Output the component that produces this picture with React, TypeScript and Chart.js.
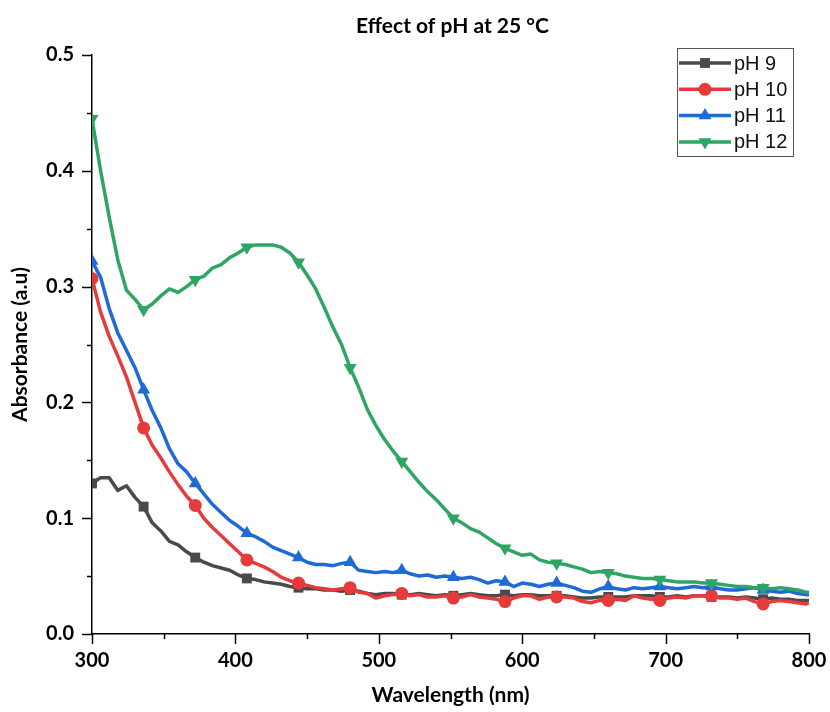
import React, { useEffect, useRef } from 'react';
import { Chart, registerables } from 'chart.js';

Chart.register(...registerables);

const wavelengths = [
  300, 306, 312, 318, 324, 330, 336, 342, 348, 354, 360, 366, 372, 378, 384, 390, 396, 402, 408, 414,
  420, 426, 432, 438, 444, 450, 456, 462, 468, 474, 480, 486, 492, 498, 504, 510, 516, 522, 528, 534,
  540, 546, 552, 558, 564, 570, 576, 582, 588, 594, 600, 606, 612, 618, 624, 630, 636, 642, 648, 654,
  660, 666, 672, 678, 684, 690, 696, 702, 708, 714, 720, 726, 732, 738, 744, 750, 756, 762, 768, 774,
  780, 786, 792, 798, 800,
];

const ph9 = [
  0.130, 0.135, 0.135, 0.124, 0.128, 0.118, 0.110, 0.096, 0.089, 0.080, 0.077, 0.071, 0.066, 0.062, 0.059, 0.057, 0.055, 0.051, 0.048, 0.047,
  0.045, 0.044, 0.043, 0.041, 0.040, 0.039, 0.039, 0.038, 0.038, 0.037, 0.038, 0.037, 0.035, 0.034, 0.035, 0.035, 0.034, 0.034, 0.035, 0.034,
  0.033, 0.034, 0.033, 0.034, 0.035, 0.034, 0.033, 0.033, 0.034, 0.033, 0.034, 0.034, 0.033, 0.033, 0.033, 0.033, 0.032, 0.031, 0.031, 0.032,
  0.032, 0.032, 0.032, 0.033, 0.033, 0.033, 0.032, 0.032, 0.033, 0.032, 0.033, 0.033, 0.032, 0.032, 0.032, 0.031, 0.032, 0.031, 0.030, 0.031,
  0.030, 0.030, 0.029, 0.029, 0.029,
];

const ph10 = [
  0.307, 0.278, 0.257, 0.240, 0.222, 0.200, 0.178, 0.163, 0.152, 0.140, 0.129, 0.119, 0.111, 0.100, 0.092, 0.085, 0.078, 0.071, 0.064, 0.061,
  0.058, 0.054, 0.049, 0.046, 0.044, 0.042, 0.040, 0.039, 0.038, 0.039, 0.040, 0.036, 0.035, 0.031, 0.033, 0.034, 0.035, 0.033, 0.034, 0.032,
  0.032, 0.033, 0.031, 0.032, 0.034, 0.032, 0.031, 0.030, 0.028, 0.031, 0.033, 0.033, 0.030, 0.032, 0.032, 0.032, 0.031, 0.028, 0.027, 0.029,
  0.029, 0.030, 0.029, 0.033, 0.031, 0.030, 0.029, 0.031, 0.032, 0.031, 0.033, 0.033, 0.033, 0.031, 0.031, 0.030, 0.031, 0.028, 0.026, 0.028,
  0.029, 0.028, 0.027, 0.026, 0.027,
];

const ph11 = [
  0.322, 0.308, 0.281, 0.260, 0.245, 0.230, 0.211, 0.193, 0.178, 0.160, 0.147, 0.140, 0.130, 0.121, 0.112, 0.105, 0.098, 0.093, 0.087, 0.084,
  0.080, 0.075, 0.072, 0.069, 0.066, 0.062, 0.060, 0.060, 0.059, 0.061, 0.062, 0.055, 0.054, 0.053, 0.054, 0.053, 0.055, 0.052, 0.050, 0.051,
  0.049, 0.050, 0.049, 0.048, 0.049, 0.047, 0.044, 0.046, 0.045, 0.041, 0.044, 0.043, 0.041, 0.043, 0.044, 0.042, 0.040, 0.037, 0.036, 0.039,
  0.041, 0.039, 0.038, 0.040, 0.039, 0.040, 0.041, 0.040, 0.039, 0.040, 0.041, 0.040, 0.041, 0.039, 0.038, 0.038, 0.039, 0.040, 0.038, 0.037,
  0.036, 0.037, 0.035, 0.034, 0.034,
];

const ph12 = [
  0.445, 0.400, 0.360, 0.323, 0.297, 0.289, 0.280, 0.285, 0.292, 0.298, 0.295, 0.300, 0.306, 0.309, 0.316, 0.319, 0.325, 0.329, 0.334, 0.336,
  0.336, 0.336, 0.334, 0.329, 0.321, 0.310, 0.298, 0.282, 0.265, 0.250, 0.230, 0.213, 0.194, 0.180, 0.168, 0.158, 0.149, 0.140, 0.131, 0.123,
  0.116, 0.108, 0.100, 0.096, 0.091, 0.088, 0.083, 0.078, 0.074, 0.071, 0.068, 0.069, 0.064, 0.062, 0.061, 0.060, 0.058, 0.056, 0.053, 0.054,
  0.053, 0.052, 0.050, 0.049, 0.048, 0.048, 0.047, 0.046, 0.045, 0.045, 0.045, 0.044, 0.044, 0.043, 0.042, 0.041, 0.041, 0.040, 0.040, 0.039,
  0.040, 0.039, 0.038, 0.036, 0.036,
];

const seriesLabels = ['pH 9', 'pH 10', 'pH 11', 'pH 12'];
const seriesColors = ['#4a4a4a', '#e63b3b', '#1f6ad4', '#2fa564'];
const seriesShapes = ['rect', 'circle', 'triangle', 'triangle'];
const seriesRotation = [0, 0, 0, 180];
const seriesRadius = [7, 6.5, 7.5, 7.5];
const seriesValues = [ph9, ph10, ph11, ph12];

const chartTitle = 'Effect of pH at 25 °C';
const xTitle = 'Wavelength (nm)';
const yTitle = 'Absorbance (a.u)';
const xMin = 300, xMax = 800, xStep = 100;
const yMin = 0, yMax = 0.5, yStep = 0.1;

const FONT = 'Lato, "Open Sans", sans-serif';

function drawMarker(ctx: CanvasRenderingContext2D, shape: string, x: number, y: number, r: number, rot: number) {
  ctx.beginPath();
  if (shape === 'rect') {
    const s = r * Math.SQRT1_2;
    ctx.rect(x - s, y - s, 2 * s, 2 * s);
  } else if (shape === 'circle') {
    ctx.arc(x, y, r, 0, Math.PI * 2);
  } else {
    const a0 = (rot * Math.PI) / 180;
    for (let k = 0; k < 3; k++) {
      const a = a0 - Math.PI / 2 + (k * 2 * Math.PI) / 3;
      const px = x + Math.cos(a) * r;
      const py = y + Math.sin(a) * r;
      if (k === 0) ctx.moveTo(px, py); else ctx.lineTo(px, py);
    }
    ctx.closePath();
  }
  ctx.fill();
}

const decorPlugin = {
  id: 'decor',
  afterDraw(chart: any) {
    const { ctx, chartArea, scales } = chart;
    const xs = scales.x, ys = scales.y;
    ctx.save();
    ctx.strokeStyle = '#000';
    ctx.lineWidth = 1.5;
    for (let v = xMin; v <= xMax + 1e-9; v += xStep / 2) {
      const px = Math.round(xs.getPixelForValue(v)) + 0.5;
      const major = Math.abs(((v - xMin) / xStep) - Math.round((v - xMin) / xStep)) < 1e-6;
      ctx.beginPath();
      ctx.moveTo(px, chartArea.bottom);
      ctx.lineTo(px, chartArea.bottom + (major ? 10 : 5));
      ctx.stroke();
    }
    for (let v = yMin; v <= yMax + 1e-9; v += yStep / 2) {
      const py = Math.round(ys.getPixelForValue(v)) + 0.5;
      const major = Math.abs(((v - yMin) / yStep) - Math.round((v - yMin) / yStep)) < 1e-6;
      ctx.beginPath();
      ctx.moveTo(chartArea.left, py);
      ctx.lineTo(chartArea.left - (major ? 10 : 5), py);
      ctx.stroke();
    }
    // title
    ctx.fillStyle = '#000';
    ctx.font = `bold 21px ${FONT}`;
    ctx.textAlign = 'center';
    ctx.textBaseline = 'middle';
    ctx.fillText(chartTitle, (chartArea.left + chartArea.right) / 2 + 2, 26);
    // legend
    const bx = chartArea.right - 132, by = chartArea.top - 7, bw = 116, bh = 108;
    ctx.fillStyle = '#fff';
    ctx.fillRect(bx, by, bw, bh);
    ctx.strokeStyle = '#555';
    ctx.lineWidth = 1;
    ctx.strokeRect(bx + 0.5, by + 0.5, bw, bh);
    chart.data.datasets.forEach((ds: any, i: number) => {
      const cy = by + 15 + i * 26.3;
      ctx.strokeStyle = seriesColors[i];
      ctx.lineWidth = 3.5;
      ctx.beginPath();
      ctx.moveTo(bx + 2, cy);
      ctx.lineTo(bx + 54, cy);
      ctx.stroke();
      ctx.fillStyle = seriesColors[i];
      drawMarker(ctx, seriesShapes[i], bx + 28, cy, seriesRadius[i], seriesRotation[i]);
      ctx.fillStyle = '#111';
      ctx.font = `20px "Liberation Sans", Arial, sans-serif`;
      ctx.textAlign = 'left';
      ctx.textBaseline = 'middle';
      ctx.fillText(ds.label, bx + 57, cy + 1);
    });
    ctx.restore();
  },
};

export default function App() {
  const ref = useRef<HTMLCanvasElement | null>(null);
  useEffect(() => {
    document.body.style.margin = '0';
    const canvas = ref.current!;
    const datasets = seriesLabels.map((label, i) => ({
      label,
      data: wavelengths.map((w, j) => ({ x: w, y: seriesValues[i][j] })),
      borderColor: seriesColors[i],
      backgroundColor: seriesColors[i],
      borderWidth: 3.5,
      borderJoinStyle: 'round' as const,
      tension: 0,
      pointStyle: seriesShapes[i] as any,
      rotation: seriesRotation[i],
      pointBorderWidth: 0,
      pointRadius: (c: any) => (c.dataIndex % 6 === 0 && wavelengths[c.dataIndex] < 790 ? seriesRadius[i] : 0),
      pointHoverRadius: 0,
      order: seriesLabels.length - i,
    }));
    const chart = new Chart(canvas, {
      type: 'line',
      data: { datasets },
      options: {
        animation: false,
        responsive: false,
        maintainAspectRatio: false,
        layout: { padding: { top: 55, right: 21, left: 0, bottom: 0 } },
        plugins: { legend: { display: false }, title: { display: false }, tooltip: { enabled: false } },
        scales: {
          x: {
            type: 'linear',
            min: xMin,
            max: xMax,
            afterFit: (s: any) => { s.height = 78; s.paddingLeft = 0; s.paddingRight = 0; },
            ticks: { stepSize: xStep, color: '#000', font: { family: FONT, size: 20, weight: 'bold' }, padding: 15, maxRotation: 0 },
            grid: { display: false, drawTicks: false },
            border: { display: true, color: '#000', width: 1.5 },
            title: { display: true, text: xTitle, color: '#000', font: { family: FONT, size: 21, weight: 'bold' }, padding: { top: 0, bottom: 4 } },
          },
          y: {
            type: 'linear',
            min: yMin,
            max: yMax,
            afterFit: (s: any) => { s.width = 92; s.paddingTop = 0; s.paddingBottom = 0; },
            ticks: { stepSize: yStep, color: '#000', font: { family: FONT, size: 20, weight: 'bold' }, padding: 18, callback: (v: any) => Number(v).toFixed(1) },
            grid: { display: false, drawTicks: false },
            border: { display: true, color: '#000', width: 1.5 },
            title: { display: true, text: yTitle, color: '#000', font: { family: FONT, size: 21, weight: 'bold' }, padding: { top: 8, bottom: 0 } },
          },
        },
      },
      plugins: [decorPlugin],
    });
    return () => chart.destroy();
  }, []);
  return (
    <div style={{ width: 830, height: 712, background: '#fff' }}>
      <canvas ref={ref} width={830} height={712} style={{ display: 'block' }} />
    </div>
  );
}
